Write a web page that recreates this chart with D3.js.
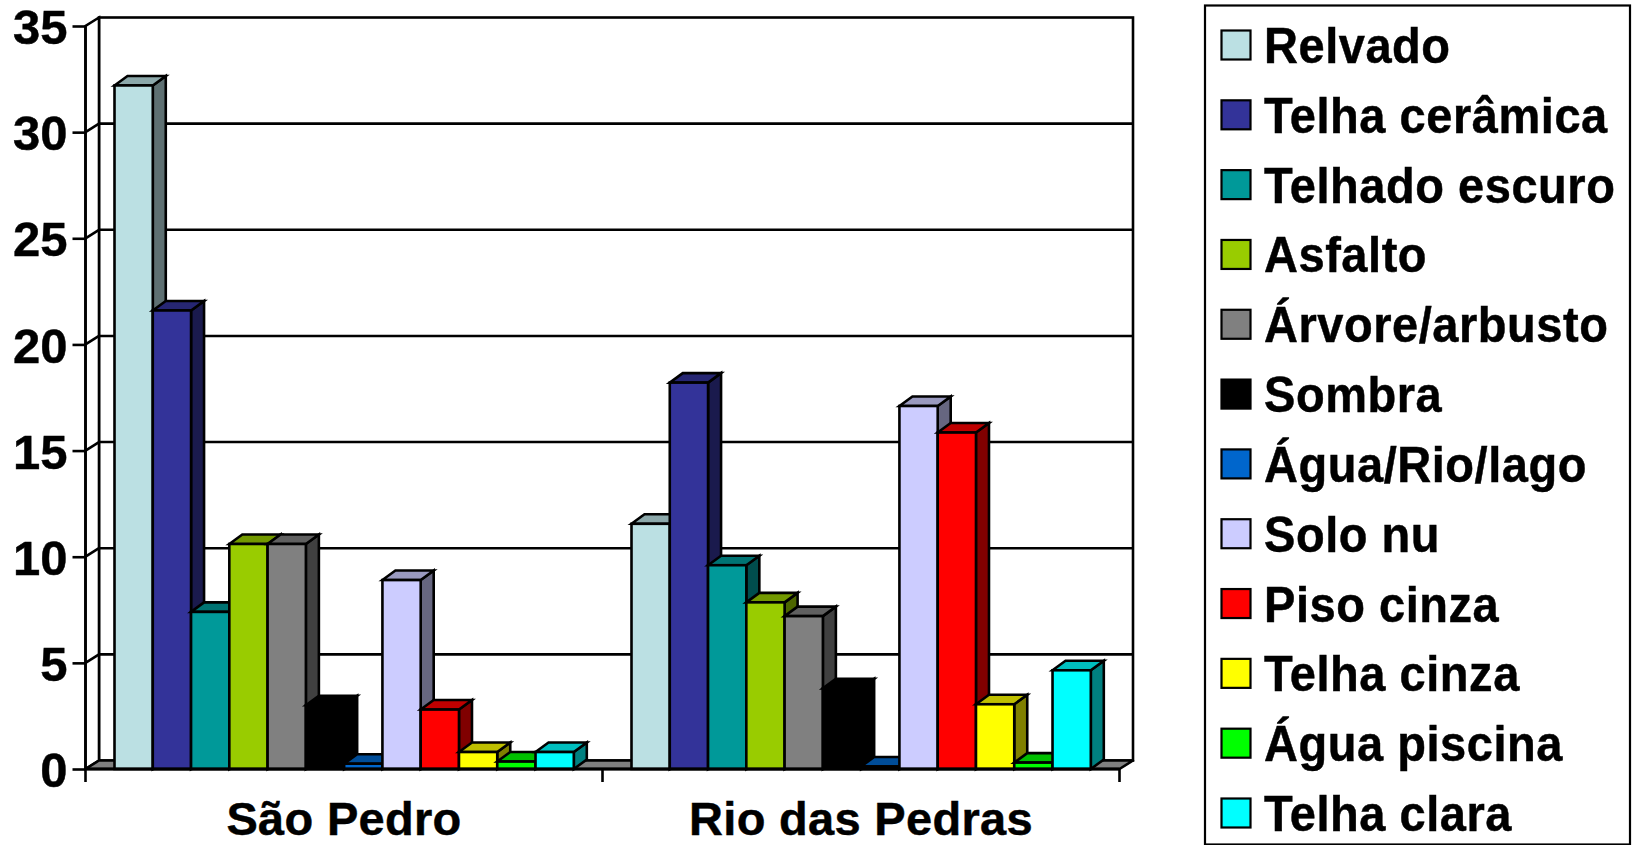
<!DOCTYPE html>
<html><head><meta charset="utf-8">
<script src="https://cdn.jsdelivr.net/npm/d3@7/dist/d3.min.js"></script>
<style>html,body{margin:0;padding:0;background:#fff;overflow:hidden}svg{display:block}
text{font-family:"Liberation Sans",Arial,sans-serif;font-weight:700;fill:#000;stroke:#000;stroke-width:0.45px}</style>
</head><body><svg id="c" width="1635" height="845"></svg>
<script>
const categories = ["São Pedro", "Rio das Pedras"];
const series = ["Relvado","Telha cerâmica","Telhado escuro","Asfalto","Árvore/arbusto","Sombra","Água/Rio/lago","Solo nu","Piso cinza","Telha cinza","Água piscina","Telha clara"];
const colors = ["#BBE0E3","#333399","#009999","#99CC00","#808080","#000000","#0066CC","#CCCCFF","#FF0000","#FFFF00","#00FF00","#00FFFF"];
const saoPedro = [32.2,21.6,7.4,10.6,10.6,3.0,0.25,8.9,2.8,0.8,0.35,0.8];
const rioDasPedras = [11.55,18.2,9.6,7.85,7.2,3.8,0.12,17.1,15.85,3.05,0.3,4.65];
const yTicks = [0,5,10,15,20,25,30,35];
const values = [saoPedro, rioDasPedras];

const svg = d3.select("#c");
const X0=85.5, X1=1119.5, Y0=769, Y1=26, WDX=13.5, WDY=8.5, BDX=13, BDY=9.5, SW=2.6;
const y = d3.scaleLinear().domain([0,35]).range([Y0,Y1]);
const x0 = d3.scaleBand().domain(categories).range([X0,X1]);
const x1 = d3.scaleBand().domain(series).range([29, x0.bandwidth()-28.7]);
const poly = pts => pts.map(p=>p.join(",")).join(" ");
const shade = (c,k)=>{const r=d3.rgb(c);return d3.rgb(r.r*k,r.g*k,r.b*k).formatHex();};

// back wall and gridlines
svg.append("rect").attr("x",X0+WDX).attr("y",Y1-WDY).attr("width",X1-X0).attr("height",Y0-Y1)
  .attr("fill","#fff").attr("stroke","#000").attr("stroke-width",SW);
const grid = svg.append("g").attr("stroke","#000").attr("stroke-width",SW);
yTicks.filter(t=>t>0&&t<35).forEach(t=>{
  grid.append("line").attr("x1",X0+WDX).attr("x2",X1+WDX).attr("y1",y(t)-WDY).attr("y2",y(t)-WDY);
});
// left wall
svg.append("polygon").attr("points",poly([[X0,Y0],[X0,Y1],[X0+WDX,Y1-WDY],[X0+WDX,Y0-WDY]]))
  .attr("fill","#fff").attr("stroke","#000").attr("stroke-width",SW);
const grid2 = svg.append("g").attr("stroke","#000").attr("stroke-width",SW);
yTicks.filter(t=>t>0&&t<35).forEach(t=>{
  grid2.append("line").attr("x1",X0).attr("x2",X0+WDX).attr("y1",y(t)).attr("y2",y(t)-WDY);
});
// floor
svg.append("polygon").attr("points",poly([[X0,Y0],[X0+WDX,Y0-WDY],[X1+WDX,Y0-WDY],[X1,Y0]]))
  .attr("fill","#808080").attr("stroke","#000").attr("stroke-width",SW).attr("stroke-linejoin","round");

// bars
categories.forEach((c,ci)=>{
  const g = svg.append("g").attr("stroke","#000").attr("stroke-width",SW).attr("stroke-linejoin","miter");
  series.forEach((s,si)=>{
    const v = values[ci][si], l = x0(c)+x1(s), r = l+x1.bandwidth(), t = y(v), col = colors[si];
    g.append("polygon").attr("points",poly([[r,Y0],[r,t],[r+BDX,t-BDY],[r+BDX,Y0-BDY]])).attr("fill",shade(col,0.5));
    g.append("polygon").attr("points",poly([[l,t],[l+BDX,t-BDY],[r+BDX,t-BDY],[r,t]])).attr("fill",shade(col,0.75));
    g.append("rect").attr("x",l).attr("y",t).attr("width",r-l).attr("height",Y0-t).attr("fill",col);
  });
});

// y axis
const yAxis = d3.axisLeft(y).tickValues(yTicks).tickSize(13).tickPadding(5).tickFormat(d3.format("d"));
const ga = svg.append("g").attr("transform",`translate(${X0},0)`).call(yAxis);
ga.select(".domain").attr("stroke","#000").attr("stroke-width",SW).attr("d",`M0,${Y1}V${Y0}`);
ga.selectAll(".tick line").attr("stroke","#000").attr("stroke-width",SW);
ga.selectAll(".tick text").attr("font-size",49).attr("dy","0.36em").attr("font-family",'"Liberation Sans"').attr("font-weight",700).attr("fill","#000");

// x axis
const xg = svg.append("g").attr("transform",`translate(0,${Y0})`);
xg.append("line").attr("x1",X0).attr("x2",X1).attr("stroke","#000").attr("stroke-width",3);
[X0,...categories.map(c=>x0(c)+x0.bandwidth())].forEach(p=>{
  xg.append("line").attr("x1",p).attr("x2",p).attr("y1",0).attr("y2",13).attr("stroke","#000").attr("stroke-width",SW);
});
categories.forEach(c=>{
  xg.append("text").attr("x",x0(c)+x0.bandwidth()/2).attr("y",66).attr("text-anchor","middle")
    .attr("font-size",47).attr("letter-spacing",0.3).text(c);
});

// legend
const LX=1205, LY=5.5, LW=425, LH=839;
svg.append("rect").attr("x",LX).attr("y",LY).attr("width",LW).attr("height",LH).attr("fill","#fff").attr("stroke","#000").attr("stroke-width",2.2);
const ly = d3.scalePoint().domain(series).range([45,813]);
series.forEach((s,i)=>{
  svg.append("rect").attr("x",1221.5).attr("y",ly(s)-14.5).attr("width",29).attr("height",29).attr("fill",colors[i]).attr("stroke","#000").attr("stroke-width",2.2);
  svg.append("text").attr("transform",`translate(1264,${ly(s)+18}) scale(1,1.05)`).attr("font-size",47).attr("letter-spacing",0.55).text(s);
});
</script></body></html>
